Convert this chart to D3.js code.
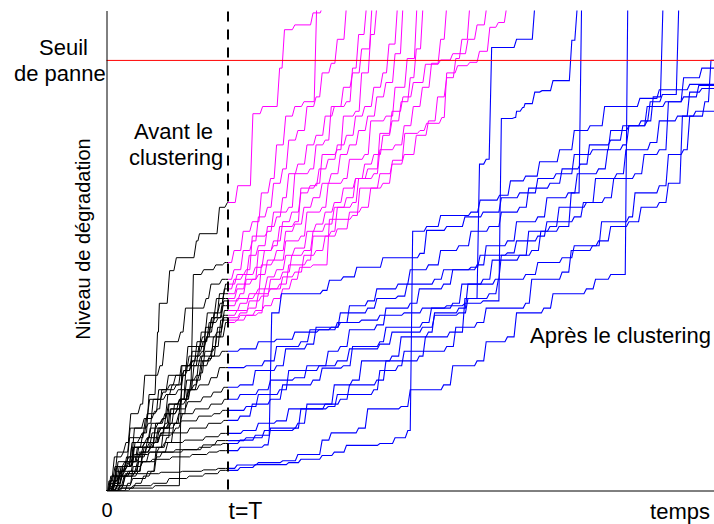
<!DOCTYPE html>
<html>
<head>
<meta charset="utf-8">
<script src="https://cdn.jsdelivr.net/npm/d3@7"></script>
<style>
  body { margin: 0; background: #fff; }
  svg { display: block; }
  text { font-family: "Liberation Sans", Arial, sans-serif; fill: #000; }
</style>
</head>
<body>
<script>
// instant de clustering et seuil de panne
const T = 20;
const seuil = 89.6;
const tMax = 100, levelMax = 100;

// trajectoires [temps, niveau] : partie noire avant T puis suite colorée
// groupe qui se dégrade vite (magenta après T)
const pathsHigh = [
  [[0,0],[1.5,3],[3,5],[4.5,9],[6,12],[7,20],[8.4,33],[8.7,39],[10.4,45.8],[11.5,48.5],[14.8,52],[15.3,53.5],[18.6,59],[19.9,60],[21.6,63.5],[24.1,78.5],[25.7,80],[28.5,88],[29.3,96],[31,97],[34,99.5],[35.6,101]],
  [[0,0],[1.5,3],[3,4],[4.5,7],[6,9],[7.5,12],[9,13],[10.5,17],[12,19],[13.5,21],[14.3,45],[16,46],[18,47],[19.5,47.5],[21,50],[22.5,54],[24,56],[25.5,62],[27,65],[28,72],[29.5,78],[31,80],[32.5,81],[34.6,101]],
  [[0,0],[0.7,3],[1.8,8],[3.2,10],[4,16],[5.6,18],[6.3,24],[8.8,26],[9.6,31],[12.2,33],[13,38],[16.4,40],[17.2,43],[19,44],[21,46],[22.5,50],[24,52],[25,57],[26.5,59],[27.5,64],[29,67],[30,73],[31.5,75],[33,80],[34.5,82],[35.5,87],[37,89],[38,94],[39.5,101]],
  [[0,0],[2.7,1],[4.3,2.5],[6.8,4],[8.2,9],[9.9,11],[10.6,17],[12.4,19],[13.1,26],[14.7,28],[15.6,33],[17.3,36],[18.1,40],[19.6,43],[21.5,45],[23,46],[24,53],[26.5,54],[27.5,58],[30,59],[31,66],[33.5,67],[34.5,72],[36,73],[37,80],[39.5,81],[40.5,88],[41.5,95],[42.8,101]],
  [[0,0],[1.2,2],[1.9,6],[3.7,7],[4.6,13],[6.9,14],[7.7,19],[9.8,20],[10.8,22],[12.6,24],[13.4,30],[15.8,32],[16.6,37],[18.7,39],[19.4,42],[21,44],[22.5,45],[23.5,49],[25,51],[26.5,55],[28,57],[29,61],[30,66],[31.5,68],[33,72],[34.5,74],[36,78],[37.5,80],[39,84],[40.5,87],[42,92],[43.7,101]],
  [[0,0],[3.5,1.5],[4.4,5],[6,6],[7,8],[8.7,9],[9.4,13],[11.3,14],[12.2,19],[13.6,21],[14.4,26],[15.5,28],[16.3,34],[17.8,36],[18.6,41],[21.5,43],[24,44],[25,50],[27.5,51],[28.5,55],[31,56],[32,63],[34.5,64],[35.5,70],[38,71],[39,78],[41,79],[42,87],[43.5,95],[44.5,101]],
  [[0,0],[0.6,2],[1.4,5],[3,6],[3.8,11],[5.9,12],[6.7,16],[8.4,17],[9.1,21],[11.5,22],[12.3,26],[14.2,27],[14.9,31],[16.8,33],[17.7,37],[19.2,40],[21.5,42],[23,45],[24.5,46.5],[26,50],[27.5,52],[29,56],[30.5,58],[32,62],[33.5,63.5],[35,67],[36.5,69],[38,72],[39.5,74],[41,78],[42.5,80],[44,84],[45.5,87],[46.5,93],[47.9,101]],
  [[0,0],[1.8,1],[2.9,3],[4.7,4],[5.4,8],[7.2,9],[8.1,14],[9.2,15],[10.1,20],[11.8,21],[12.7,25],[14,26],[15.2,30],[16.5,32],[17.3,36],[19.3,39.5],[22,41],[23,44],[25,45],[26.5,48],[28,50],[29.5,54],[31,55.5],[32.5,59],[34,61],[35.5,64],[37,66],[38.5,70],[40,72],[41.5,75],[43,78],[44.5,82],[46,85],[47.5,91],[48.8,101]],
  [[0,0],[0.9,1],[2.2,4],[3.3,5],[4.2,10],[5.5,11],[6.4,15],[7.9,16.5],[8.6,21],[10.4,22],[11.4,24],[13.3,25],[14.1,29],[15.9,31],[16.9,35],[18.4,36],[19.1,38.5],[21.5,40],[24.5,41],[25.5,47],[27.5,48],[29.5,52],[32,53],[33,58],[35.5,59],[36.5,64],[39,65],[40,69],[42.5,70],[43.5,77],[46,78],[47.5,84],[49.5,90],[51.1,101]],
  [[0,0],[2.3,1],[3.1,3],[5.2,4],[5.9,8],[7.3,9],[8,13],[9.7,14],[10.3,18],[12.1,19],[13.2,23],[14.8,24],[15.7,28],[17.5,30],[18.3,34],[19.4,37.5],[22,39],[23.5,41],[25,42],[26.5,44.5],[28,46],[29.5,49],[31,50.5],[33,54],[34.5,55.5],[36,58],[37.5,60],[39,63],[41,65],[42.5,68],[44,70],[45.5,74],[47,77],[48.5,81],[50,86],[51,92],[52.1,101]],
  [[0,0],[1.3,1.5],[2.2,3],[3.6,4],[5.1,6],[6.2,9],[7.6,10],[8.5,13],[10.2,14],[11.2,18],[13.1,19],[13.9,23],[15.4,24.5],[16.2,29],[17.9,30],[18.8,35.5],[22,36.5],[25,37],[26,42],[28.5,43],[30,47],[33,48],[34,53],[37,54],[38,59],[40.5,60],[41.5,65],[44,66],[45,71],[47.5,72],[49,76],[50.5,80],[52,84],[53.5,89],[55,94],[56,101]],
  [[0,0],[1.7,1],[2.6,5],[4.4,6],[5.3,9],[7.1,10],[8.9,12],[9.8,16],[11.7,17],[12.4,21],[14.4,22],[15.1,26],[16.9,27.5],[17.6,32],[19.2,36.5],[21.5,37.5],[23.5,38],[25,41],[27,42],[29,44.5],[31,45.5],[32.5,49],[34.5,50],[36,53],[38,54.5],[40,58],[42,59],[43.5,63],[45.5,64],[47,68],[49,70],[51,74],[53,77],[54.5,82],[56,86],[57.5,90],[58.5,94],[59.8,101]],
  [[0,0],[0.4,2],[1.3,7],[2.8,8],[3.9,13],[6.2,15],[7.1,19],[9.3,20.5],[10.2,24],[12.8,25],[13.6,28],[15.7,29],[16.4,32],[18.2,33],[19.3,36],[22,37],[23.5,39.5],[25.5,40.5],[27,44],[29,45.5],[30.5,49],[32.5,50],[34,54],[36,55.5],[37.5,59],[39.5,61],[41,65],[43,67],[45,74.4],[47,79],[48.8,82],[50.5,85],[52.5,88.8],[55,89.7],[57,91],[59.5,94],[61,97],[62.6,101]],
  [[0,0],[2.4,0.5],[4.8,1.5],[6.1,3],[7.4,4],[8.3,8],[10.1,10],[11.1,14],[12.5,16],[13.3,21],[15,23],[15.8,27],[17.4,28],[18.1,32],[19.6,35],[21.5,35.5],[23,36.5],[24.5,37.5],[26,38.5],[27.5,40],[29,42],[30.5,44],[31.8,46.5],[34,47],[36.7,56.5],[40.5,57.3],[41.7,63],[45,66],[47.1,68.8],[49.1,74.4],[51.6,75],[52.7,76.5],[55.2,77.7],[56,87],[57.8,88.5],[59.8,89.2],[61.4,91.5],[63.1,96.5],[64.5,97.5],[65.9,101]]
];

// groupe qui se dégrade lentement (bleu après T)
const pathsLow = [
  [[0,0],[1.6,0.5],[4.4,1],[7.7,1.5],[10.3,2.5],[13.6,3],[16.2,3.5],[18.7,4.2],[22,4.8],[24.5,5.4],[30,5.8],[32,6.5],[35.5,7.3],[37.5,8],[39.5,9.4],[45,9.8],[47.5,11],[49.6,12.5],[50.4,54],[52.7,55],[55,57.3],[60,58],[61.5,60.5],[64.7,61.5],[66.5,64.5],[69,65.5],[71.3,68.5],[74.6,71],[77,75],[79.6,76],[82,80],[87.8,81.7],[91,83.5],[96,84.6]],
  [[0,0],[0.8,1.5],[2.6,3],[3.5,3.5],[9,3.8],[12.5,4],[16,4.3],[18.4,4.6],[21.5,5.3],[25,5.8],[29,6.2],[31.5,7.5],[35.5,10.5],[37,12],[41.5,13],[43,17],[48.5,17.5],[50,21],[55.5,22],[57,26],[61,27],[62.5,31],[66,32],[67.5,37],[72,38],[73.5,41],[79,42],[80.5,44],[83,45],[85.8,101]],
  [[0,0],[1.2,2],[2.1,3],[3.9,4],[5.3,6],[7.6,6.5],[10.8,7],[14.1,7.5],[16.9,8],[18.6,8.3],[22,9],[26,9.5],[27,13],[31.5,14],[33,18],[38.5,19],[40,22],[44.5,23],[46,27],[51.5,28],[52.5,32],[56.5,33],[59,40],[61.4,68],[62.5,69],[63.4,92.3],[67.5,94],[70.5,101]],
  [[0,0],[0.6,1.5],[1.7,5],[3.4,6],[4.6,7.5],[7.2,8],[11.4,8.5],[15.3,9],[17.5,9.5],[19.2,9.8],[22,10.5],[24.5,11.5],[27.2,37],[28.8,41],[35.6,41.7],[36.7,43.8],[39,44.5],[41.2,46.5],[45.5,48.5],[51.6,49.4],[52.7,54.2],[56,55],[59,57],[62,58],[65,61],[68,62],[71,65],[74,66],[77,70],[80,71],[83,75],[86,76],[89,80],[92,81],[95,86],[98,88]],
  [[0,0],[2.2,1],[3.1,3.5],[4.9,4],[5.8,6],[8.3,7],[9.2,8],[12.7,8.5],[15.9,9.5],[18.2,10.4],[23,11],[26,12.5],[31,13],[32,17],[36.5,17.5],[38,20],[44,21],[45,25],[48,26],[49,29],[56,30],[57.5,34],[61,35],[62.5,38],[69,39],[70,44],[75,45.5],[76.5,50],[80,51],[81.5,56],[86,57],[87,62],[91,63.5],[92.5,70],[95,71],[96,78],[98.5,81],[99.5,89.6]],
  [[0,0],[1.1,1],[2.3,4],[3.2,6],[5.4,7],[6.6,9],[9.6,10],[12.9,10.5],[16.3,11.2],[18.8,11.9],[22.5,12.5],[25,14],[28,14.5],[30,17],[36,18],[37.5,22],[40.5,23],[42,27],[47,28],[48.5,32],[53,33],[54,37],[58,38],[59.5,43],[64,44],[65,49],[70,50],[71.5,54],[74.5,55],[76.5,62],[78.2,101]],
  [[0,0],[1.4,2],[2.1,5],[3.6,6],[4.5,9],[6.3,10],[8.8,11.5],[10.9,12],[13.7,13],[16.8,14],[19.3,14.6],[22,15.5],[24,18],[27,19],[29,22],[34,23],[35.5,25.5],[39,26],[40.5,30],[45,31],[46,34],[52,35],[53.5,38],[57,39],[58.5,43],[62,44],[63.5,48],[68,49],[69.5,54],[73,55],[74.5,59],[79,60],[80.5,65],[84,66],[85.5,71],[89.5,72.5],[91,77],[94,78],[96,83],[98,83.75]],
  [[0,0],[0.9,3],[2.5,4],[3.3,7],[5.7,8],[6.8,11],[9.1,12],[11.4,13],[12.3,14.5],[15.2,15.5],[17.7,16],[19.1,16.7],[23,17.5],[25,20],[28.5,21],[30,25],[35,26],[36.5,29],[38.5,30],[40,33.5],[44.5,34.5],[46,38],[50,39],[51.5,42],[55.5,43],[57,46],[61,47],[62.5,51],[66,52],[67.5,56],[71,57],[72.5,61],[76,62],[77.5,66],[81,67],[82.5,71],[85,72],[86,76],[89,77],[90,82],[91.6,101]],
  [[0,0],[1.9,1.5],[2.7,5],[4.3,6],[5.1,9],[7.9,10],[8.7,13],[10.6,14],[11.9,16],[14.6,17],[17.2,18],[19.4,19],[22,20],[25,21],[27,23],[31,23.5],[33,26],[38,27],[40,29.5],[45,30.5],[47,33],[52,34],[54,36.5],[58,37],[59.5,40],[63,41],[64.5,44],[69,45],[71,47.5],[75,48.5],[77,51],[81,52],[83,55],[86,56],[88,59],[91,60],[92.5,64],[94.8,78],[97,79]],
  [[0,0],[0.7,2],[1.6,4],[3.4,5],[4.1,9],[6.3,10],[7.2,13],[8.5,14],[9.6,16],[11.7,17],[13.4,18.5],[15.9,19.5],[17.6,20.5],[19.3,21.5],[22,22],[24.5,25],[28,26],[29.5,29.5],[33,30.5],[34.5,34],[38.5,35],[40,38.5],[43,39.5],[44.5,42],[48,43],[50,46],[53,47],[55,50],[58,51],[60,54],[63,55],[65,58],[68,59],[69.5,63],[73,64],[75,67],[78,68],[79.5,72],[83,73],[85,76],[88,77],[89.5,81],[91.5,82.5],[94.2,101]],
  [[0,0],[1.5,2],[2.4,5],[3.8,6],[4.7,10],[6.7,11],[7.4,14],[9.3,15],[10.2,18],[12.1,19],[13.8,21],[15.3,22],[17.2,23.5],[18.6,25.6],[23,26],[26,27],[28,30],[32,31],[33.5,33.5],[37,34],[38.5,37],[43,38],[44.5,40],[48,40.5],[49.5,43],[54,44],[55.5,46],[60,46.5],[61.5,49],[66,49.5],[67.5,52],[71,53],[72.5,56],[77,57],[78.5,60],[82,61],[83.5,65],[87,66],[88.5,70],[91,71],[92.5,81],[95,82],[97.5,84.4]],
  [[0,0],[4,0.5],[8,1],[12.4,26],[14,27],[17,28],[19,29],[22,29.5],[25,31],[28,31.5],[31,33],[35,33.5],[38,35],[42,35.5],[45,36.5],[49,37],[52,38],[56,38.5],[59,39],[62,39.5],[65,77.5],[67.2,77.7],[67.5,79],[68.5,79.8],[68.9,80.6],[70.5,83],[71.7,83.3],[73.5,85.4],[76.6,93.8],[77.5,101]]
];

const tickLabels = ["0", "t=T"];
const xTitle = "temps";
const yTitle = "Niveau de dégradation";
const seuilLabel = ["Seuil", "de panne"];
const avantLabel = ["Avant le", "clustering"];
const apresLabel = "Après le clustering";

const width = 714, height = 524;
const svg = d3.select("body").append("svg")
  .attr("width", width)
  .attr("height", height);

const x = d3.scaleLinear().domain([0, tMax]).range([106.5, 714]);
const y = d3.scaleLinear().domain([0, levelMax]).range([490.5, 10.5]);

svg.append("defs").append("clipPath").attr("id", "plot")
  .append("rect")
  .attr("x", x(0)).attr("y", y(levelMax))
  .attr("width", x(tMax) - x(0)).attr("height", y(0) - y(levelMax));

// marches avec un saut légèrement incliné, comme sur la figure
function curveSlantStep(context) {
  let x0, y0, i = 0;
  return {
    lineStart() { i = 0; },
    lineEnd() {},
    point(px, py) {
      if (i === 0) context.moveTo(px, py);
      else {
        const s = Math.min(2.5, (px - x0) / 2);
        context.lineTo(px - s, y0);
        context.lineTo(px, py);
      }
      x0 = px; y0 = py; i++;
    }
  };
}

const line = d3.line()
  .x(d => x(d[0]))
  .y(d => y(d[1]))
  .curve(curveSlantStep);

// coupe une trajectoire en deux au temps T
function splitPath(pts) {
  const before = pts.filter(p => p[0] < T);
  const after = pts.filter(p => p[0] >= T);
  const atT = before[before.length - 1][1];
  const black = before.concat([[T, atT]]);
  const colored = [[T, atT]].concat(after);
  const last = colored[colored.length - 1];
  if (last[1] < levelMax) colored.push([tMax, last[1]]);
  return { black, colored };
}

const high = pathsHigh.map(splitPath);
const low = pathsLow.map(splitPath);

const plot = svg.append("g").attr("clip-path", "url(#plot)");

plot.append("g").selectAll("path")
  .data(high.concat(low))
  .enter().append("path")
  .attr("d", d => line(d.black))
  .attr("fill", "none")
  .attr("stroke", "#000")
  .attr("stroke-width", 1);

plot.append("g").selectAll("path")
  .data(high)
  .enter().append("path")
  .attr("d", d => line(d.colored))
  .attr("fill", "none")
  .attr("stroke", "#ff00ff")
  .attr("stroke-width", 1);

plot.append("g").selectAll("path")
  .data(low)
  .enter().append("path")
  .attr("d", d => line(d.colored))
  .attr("fill", "none")
  .attr("stroke", "#0000ff")
  .attr("stroke-width", 1.1);

// ligne t = T en pointillés
svg.append("line")
  .attr("x1", x(T)).attr("x2", x(T))
  .attr("y1", y(levelMax) + 1).attr("y2", y(0))
  .attr("stroke", "#000")
  .attr("stroke-width", 2)
  .attr("stroke-dasharray", "10,8");

// seuil de panne
svg.append("line")
  .attr("x1", x(0)).attr("x2", x(tMax))
  .attr("y1", y(seuil)).attr("y2", y(seuil))
  .attr("stroke", "#ff0000")
  .attr("stroke-width", 1);

// axes
const xAxis = svg.append("g")
  .attr("transform", `translate(0,${y(0)})`)
  .call(d3.axisBottom(x).tickValues([0, T]).tickFormat((d, i) => tickLabels[i]).tickSize(0).tickSizeOuter(0));
xAxis.select(".domain").attr("stroke", "#000");
xAxis.selectAll(".tick text")
  .attr("font-family", null)
  .attr("dy", null)
  .attr("y", (d, i) => i ? 28.5 : 26.5)
  .attr("text-anchor", (d, i) => i ? "start" : "middle")
  .style("font-size", (d, i) => i ? "23px" : "20px");

const yAxis = svg.append("g")
  .attr("transform", `translate(${x(0)},0)`)
  .call(d3.axisLeft(y).tickValues([]).tickSizeOuter(0));
yAxis.select(".domain").attr("stroke", "#000");

svg.append("text")
  .attr("x", 710).attr("y", 519)
  .attr("text-anchor", "end")
  .style("font-size", "22px")
  .text(xTitle);

svg.append("text")
  .attr("transform", "translate(89.5,239) rotate(-90)")
  .attr("text-anchor", "middle")
  .style("font-size", "20px")
  .text(yTitle);

svg.append("text").attr("x", 39).attr("y", 55).style("font-size", "22px").text(seuilLabel[0]);
svg.append("text").attr("x", 14).attr("y", 81).style("font-size", "22px").text(seuilLabel[1]);

svg.append("text").attr("x", 134).attr("y", 139).style("font-size", "22px").text(avantLabel[0]);
svg.append("text").attr("x", 129).attr("y", 165).style("font-size", "22px").text(avantLabel[1]);

svg.append("text").attr("x", 530).attr("y", 343).style("font-size", "22px").text(apresLabel);
</script>
</body>
</html>
